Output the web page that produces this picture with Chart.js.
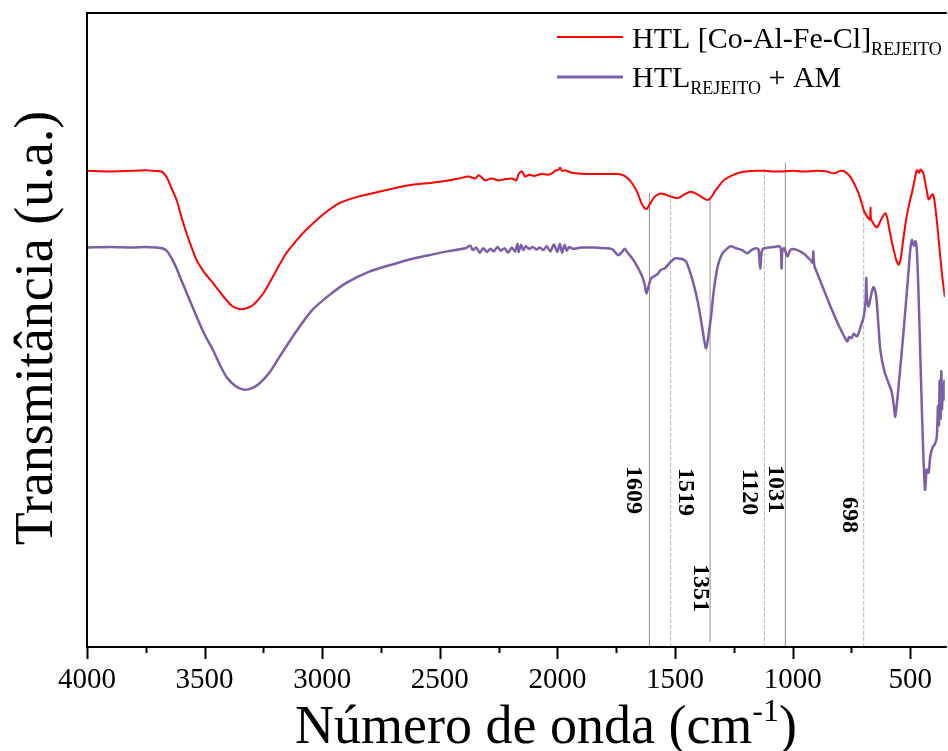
<!DOCTYPE html>
<html>
<head>
<meta charset="utf-8">
<script src="https://cdn.jsdelivr.net/npm/chart.js@4.4.1/dist/chart.umd.min.js"></script>
<style>
  html, body { margin: 0; padding: 0; background: #fff; }
  canvas { display: block; }
</style>
</head>
<body>
<canvas id="ftir" width="948" height="751"></canvas>
<script>
// Wavenumber axis ticks (cm-1)
const tickValues = [4000, 3500, 3000, 2500, 2000, 1500, 1000, 500];

// HTL [Co-Al-Fe-Cl] rejeito
const redWn = [4000, 3900, 3800, 3750, 3720, 3683, 3660, 3640, 3619, 3600, 3577, 3555, 3534, 3500, 3464, 3435, 3407, 3380, 3351, 3325, 3295, 3250, 3210, 3180, 3153, 3110, 3068, 3000, 2927, 2850, 2758, 2690, 2617, 2540, 2476, 2420, 2377, 2350, 2335, 2320, 2306, 2280, 2250, 2220, 2194, 2175, 2165, 2151, 2137, 2120, 2100, 2070, 2040, 2020, 2010, 1995, 1989, 1980, 1968, 1940, 1911, 1870, 1826, 1780, 1742, 1720, 1700, 1686, 1672, 1658, 1643, 1629, 1620, 1605, 1587, 1565, 1544, 1515, 1488, 1460, 1432, 1400, 1380, 1361, 1345, 1330, 1310, 1290, 1250, 1205, 1160, 1121, 1060, 1000, 950, 900, 854, 825, 796, 775, 754, 737, 720, 708, 698, 685, 675, 671, 669, 667, 660, 650, 641, 630, 620, 606, 598, 590, 580, 570, 560, 549, 540, 530, 520, 510, 500, 493, 482, 472, 466, 462, 457, 451, 445, 440, 430, 422, 415, 410, 405, 401, 395, 385, 375, 365, 353];
const redT = [75.1, 75.0, 75.1, 75.2, 75.1, 75.0, 74.0, 72.3, 70.5, 68.0, 65.3, 63.0, 61.0, 59.0, 57.4, 56.0, 54.7, 53.7, 53.3, 53.4, 53.9, 55.8, 58.4, 60.4, 62.1, 64.1, 65.8, 68.1, 70.0, 71.0, 71.8, 72.4, 72.9, 73.2, 73.5, 73.9, 74.2, 73.9, 74.4, 74.0, 73.6, 73.9, 73.6, 73.8, 73.9, 73.6, 74.6, 75.0, 74.2, 74.5, 74.3, 74.6, 74.5, 74.8, 75.1, 75.3, 75.6, 75.1, 75.2, 74.8, 74.7, 74.6, 74.6, 74.6, 74.6, 74.4, 73.9, 73.3, 72.5, 71.5, 70.0, 69.2, 69.1, 70.0, 71.0, 71.5, 71.4, 71.0, 70.8, 71.4, 71.8, 71.3, 70.8, 70.5, 71.0, 71.9, 72.9, 73.7, 74.5, 75.0, 75.1, 75.1, 75.0, 75.1, 75.0, 75.1, 75.0, 74.7, 75.1, 74.9, 74.1, 73.0, 71.6, 70.2, 68.9, 68.0, 67.5, 67.4, 69.3, 67.5, 67.0, 66.4, 66.2, 66.9, 67.7, 68.4, 67.7, 66.1, 64.2, 62.6, 61.1, 60.3, 61.4, 64.2, 66.8, 68.9, 70.6, 71.6, 73.6, 75.2, 75.0, 74.8, 75.3, 75.1, 74.8, 74.0, 72.0, 70.6, 70.9, 71.2, 71.4, 71.2, 69.8, 66.5, 62.6, 58.8, 55.2];

// HTL rejeito + AM
const purpleWn = [4000, 3900, 3800, 3750, 3704, 3680, 3661, 3640, 3620, 3605, 3570, 3534, 3500, 3464, 3435, 3407, 3370, 3337, 3300, 3266, 3220, 3181, 3110, 3041, 2970, 2899, 2800, 2687, 2620, 2546, 2470, 2391, 2370, 2360, 2345, 2330, 2315, 2300, 2285, 2270, 2255, 2240, 2225, 2210, 2194, 2180, 2170, 2165, 2155, 2145, 2135, 2120, 2105, 2090, 2075, 2060, 2045, 2030, 2015, 2000, 1990, 1980, 1970, 1960, 1950, 1935, 1900, 1842, 1800, 1770, 1755, 1742, 1728, 1714, 1700, 1686, 1665, 1643, 1630, 1622, 1612, 1601, 1575, 1560, 1544, 1520, 1500, 1488, 1470, 1453, 1435, 1418, 1402, 1385, 1375, 1368, 1360, 1347, 1335, 1319, 1300, 1280, 1262, 1240, 1215, 1192, 1175, 1156, 1145, 1138, 1131, 1121, 1100, 1080, 1057, 1050, 1047, 1044, 1036, 1022, 1008, 980, 950, 935, 923, 915, 912, 908, 895, 870, 839, 800, 768, 760, 750, 740, 726, 712, 698, 690, 687, 684, 677, 666, 656, 645, 635, 627, 610, 592, 580, 570, 564, 555, 545, 529, 510, 500, 493, 485, 478, 472, 465, 455, 445, 437, 430, 422, 415, 405, 395, 387, 382, 378, 375, 371, 368, 365, 361, 358, 355, 353];
const purpleT = [63.0, 63.1, 63.0, 63.1, 63.0, 62.9, 62.5, 61.3, 59.8, 58.4, 55.3, 52.1, 49.3, 46.8, 44.5, 42.6, 41.2, 40.6, 40.8, 41.6, 43.5, 45.8, 49.8, 53.2, 55.5, 57.4, 59.2, 60.5, 61.2, 61.8, 62.4, 62.9, 63.3, 62.6, 63.0, 62.2, 62.9, 62.3, 62.8, 62.4, 63.1, 62.5, 62.9, 62.2, 63.0, 62.4, 63.6, 62.3, 63.4, 62.6, 63.2, 62.8, 63.1, 62.7, 63.0, 62.6, 63.2, 62.4, 63.5, 62.3, 63.6, 62.2, 63.4, 62.5, 63.1, 62.8, 63.0, 63.0, 62.9, 62.8, 62.3, 61.8, 62.2, 62.8, 62.1, 61.5, 60.3, 58.7, 57.3, 55.8, 57.0, 58.2, 58.8, 59.5, 59.7, 60.7, 61.3, 61.3, 61.2, 60.8, 59.0, 56.8, 54.2, 50.5, 48.2, 47.1, 48.6, 52.1, 56.3, 60.0, 62.0, 62.8, 63.2, 62.9, 62.6, 62.1, 62.6, 62.9, 62.7, 59.7, 62.5, 62.9, 63.0, 63.1, 63.2, 62.8, 59.7, 62.4, 62.9, 61.6, 62.7, 62.6, 62.0, 61.4, 61.0, 60.6, 62.4, 60.2, 58.9, 56.6, 53.7, 50.4, 48.2, 48.9, 48.7, 49.4, 49.0, 50.4, 52.1, 54.5, 58.2, 55.0, 53.7, 55.6, 56.8, 55.4, 50.6, 46.8, 43.5, 41.6, 40.4, 38.2, 36.3, 39.0, 43.0, 49.5, 58.0, 62.6, 64.2, 63.3, 64.0, 62.6, 56.0, 43.0, 31.0, 24.8, 28.0, 27.5, 30.0, 31.5, 32.0, 33.2, 38.0, 35.0, 42.0, 36.0, 43.5, 37.5, 41.5, 39.0, 42.0, 40.9];

// Band markers: wavenumber, height of the guide line, line style
const peakWn = [1609, 1519, 1351, 1120, 1031, 698];
const peakTop = [71.6, 71.6, 71.0, 75.7, 76.4, 70.4];
const peakDashed = [false, true, false, true, false, true];

// where each band label sits: offset from its guide line (px) and vertical centre (px)
const peakLabelDx = [-16, 15, -10, -15, -10, -14];
const peakLabelY = [490, 492, 588, 492, 489, 515];

const serif = "'Liberation Serif', 'Times New Roman', serif";

function toPoints(xs, ys) {
    return xs.map((x, i) => ({ x: x, y: ys[i] }));
}

const peakSets = peakWn.map((wn, i) => ({
    data: [{ x: wn, y: i === 2 ? 0.8 : 0 }, { x: wn, y: peakTop[i] }],
    borderColor: peakDashed[i] ? "#b4b4b4" : "#8e8e8e",
    borderWidth: 1,
    borderDash: peakDashed[i] ? [4, 2] : [],
    pointRadius: 0,
    order: 5
}));

// frame, tick marks, legend, axis titles and band labels
const decorations = {
    id: "decorations",
    afterDraw(chart) {
        const ctx = chart.ctx;
        const area = chart.chartArea;
        const xs = chart.scales.x;
        ctx.save();

        // frame (right side falls outside the canvas)
        ctx.strokeStyle = "#000";
        ctx.lineWidth = 2;
        ctx.beginPath();
        ctx.moveTo(area.right + 2, area.top);
        ctx.lineTo(area.left, area.top);
        ctx.lineTo(area.left, area.bottom);
        ctx.lineTo(area.right + 2, area.bottom);
        ctx.stroke();

        // major and minor tick marks
        for (let v = 4000; v >= 400; v -= 250) {
            const px = Math.round(xs.getPixelForValue(v)) + 0.5;
            const len = v % 500 === 0 ? 12 : 6;
            ctx.beginPath();
            ctx.moveTo(px, area.bottom);
            ctx.lineTo(px, area.bottom + len);
            ctx.stroke();
        }

        // band labels
        ctx.fillStyle = "#000";
        ctx.font = "bold 24px " + serif;
        ctx.textAlign = "center";
        ctx.textBaseline = "middle";
        peakWn.forEach((wn, i) => {
            const px = xs.getPixelForValue(wn) + peakLabelDx[i];
            ctx.save();
            ctx.translate(px, peakLabelY[i]);
            ctx.rotate(Math.PI / 2);
            ctx.fillText(String(wn), 0, 0);
            ctx.restore();
        });

        // legend
        ctx.textAlign = "left";
        ctx.textBaseline = "alphabetic";
        const rows = [
            { color: "#ff0000", width: 2, y: 37, base: 48, parts: ["HTL [Co-Al-Fe-Cl]", "REJEITO", ""] },
            { color: "#7b5ea7", width: 3, y: 77, base: 87, parts: ["HTL", "REJEITO", " + AM"] }
        ];
        rows.forEach(r => {
            ctx.strokeStyle = r.color;
            ctx.lineWidth = r.width;
            ctx.beginPath();
            ctx.moveTo(557, r.y);
            ctx.lineTo(623, r.y);
            ctx.stroke();
            let x = 632;
            ctx.font = "30px " + serif;
            ctx.fillText(r.parts[0], x, r.base);
            x += ctx.measureText(r.parts[0]).width;
            ctx.font = "18px " + serif;
            ctx.fillText(r.parts[1], x, r.base + 7);
            x += ctx.measureText(r.parts[1]).width;
            ctx.font = "30px " + serif;
            ctx.fillText(r.parts[2], x, r.base);
        });

        // x axis title with superscript
        const big = "54px " + serif;
        const sup = "32px " + serif;
        ctx.font = big;
        const a = "Número de onda (cm";
        const wA = ctx.measureText(a).width;
        const wC = ctx.measureText(")").width;
        ctx.font = sup;
        const wB = ctx.measureText("-1").width;
        let tx = 546 - (wA + wB + wC) / 2;
        const base = 743;
        ctx.font = big;
        ctx.fillText(a, tx, base);
        tx += wA;
        ctx.font = sup;
        ctx.fillText("-1", tx, base - 22);
        tx += wB;
        ctx.font = big;
        ctx.fillText(")", tx, base);

        // y axis title
        ctx.save();
        ctx.translate(52, 328);
        ctx.rotate(-Math.PI / 2);
        ctx.textAlign = "center";
        ctx.font = big;
        ctx.fillText("Transmitância (u.a.)", 0, 0);
        ctx.restore();

        ctx.restore();
    }
};

new Chart(document.getElementById("ftir"), {
    type: "line",
    data: {
        datasets: [
            {
                label: "HTL [Co-Al-Fe-Cl] REJEITO",
                data: toPoints(redWn, redT),
                borderColor: "#ff0000",
                borderWidth: 2,
                pointRadius: 0,
                tension: 0.25,
                order: 1
            },
            {
                label: "HTL REJEITO + AM",
                data: toPoints(purpleWn, purpleT),
                borderColor: "#7b5ea7",
                borderWidth: 2.5,
                pointRadius: 0,
                tension: 0.25,
                order: 1
            },
            ...peakSets
        ]
    },
    options: {
        responsive: false,
        animation: false,
        layout: { padding: { left: 87, top: 13, right: 0, bottom: 0 } },
        plugins: {
            legend: { display: false },
            tooltip: { enabled: false }
        },
        scales: {
            x: {
                type: "linear",
                reverse: true,
                min: 353,
                max: 4000,
                grid: { display: false, drawTicks: false },
                border: { display: false },
                afterBuildTicks: (scale) => {
                    scale.ticks = tickValues.map(v => ({ value: v }));
                },
                afterFit: (scale) => {
                    scale.height = 104;
                },
                ticks: {
                    padding: 16,
                    color: "#000",
                    maxRotation: 0,
                    autoSkip: false,
                    font: { family: serif, size: 29 },
                    callback: (value) => String(value)
                }
            },
            y: {
                display: false,
                min: 0,
                max: 100
            }
        }
    },
    plugins: [decorations]
});
</script>
</body>
</html>
